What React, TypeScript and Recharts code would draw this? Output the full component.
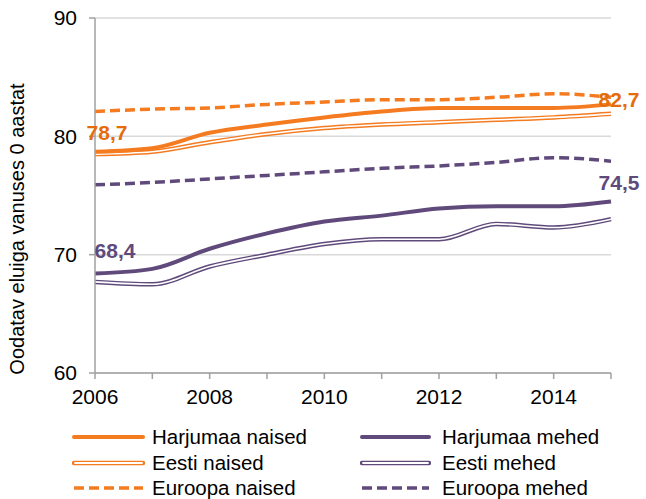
import React from "react";
import { LineChart, Line, XAxis, YAxis, CartesianGrid, Label } from "recharts";

const years = [2006, 2007, 2008, 2009, 2010, 2011, 2012, 2013, 2014, 2015];
const harjumaaNaised = [78.7, 79.0, 80.3, 81.0, 81.6, 82.1, 82.4, 82.4, 82.4, 82.7];
const eestiNaised = [78.5, 78.7, 79.5, 80.2, 80.7, 81.0, 81.2, 81.4, 81.6, 81.9];
const euroopaNaised = [82.1, 82.3, 82.4, 82.7, 82.9, 83.1, 83.1, 83.3, 83.6, 83.3];
const harjumaaMehed = [68.4, 68.8, 70.5, 71.8, 72.8, 73.3, 73.9, 74.1, 74.1, 74.5];
const eestiMehed = [67.7, 67.5, 69.0, 70.0, 70.9, 71.3, 71.3, 72.6, 72.3, 73.0];
const euroopaMehed = [75.9, 76.1, 76.4, 76.7, 77.0, 77.3, 77.5, 77.8, 78.2, 77.9];
const yTicks = [60, 70, 80, 90];

const ORANGE = "#F47B20";
const ORANGE_TEXT = "#E46C0A";
const PURPLE = "#604A7B";
const FONT = "Liberation Sans, Arial, sans-serif";

const data = years.map((year, i) => ({
  year,
  harjumaaNaised: harjumaaNaised[i],
  eestiNaised: eestiNaised[i],
  euroopaNaised: euroopaNaised[i],
  harjumaaMehed: harjumaaMehed[i],
  eestiMehed: eestiMehed[i],
  euroopaMehed: euroopaMehed[i],
}));

const fmt = (v: number) => v.toFixed(1).replace(".", ",");

const endLabel =
  (color: string, first: [number, number], last: [number, number]) =>
  (props: any) => {
    const { x, y, index, value } = props;
    if (index !== 0 && index !== years.length - 1) return null;
    const off = index === 0 ? first : last;
    return (
      <text
        key={"l" + index}
        x={x + off[0]}
        y={y + off[1]}
        fill={color}
        fontSize={21}
        fontWeight="bold"
        fontFamily={FONT}
        textAnchor="middle"
        dominantBaseline="central"
      >
        {fmt(Number(value))}
      </text>
    );
  };

type LegendItem = { name: string; color: string; kind: "solid" | "double" | "dash" };
const legendLeft: LegendItem[] = [
  { name: "Harjumaa naised", color: ORANGE, kind: "solid" },
  { name: "Eesti naised", color: ORANGE, kind: "double" },
  { name: "Euroopa naised", color: ORANGE, kind: "dash" },
];
const legendRight: LegendItem[] = [
  { name: "Harjumaa mehed", color: PURPLE, kind: "solid" },
  { name: "Eesti mehed", color: PURPLE, kind: "double" },
  { name: "Euroopa mehed", color: PURPLE, kind: "dash" },
];

const Swatch = ({ item, w }: { item: LegendItem; w: number }) => (
  <svg width={w} height={10} style={{ display: "block" }}>
    {item.kind === "solid" && (
      <line x1={2} x2={w - 2} y1={5} y2={5} stroke={item.color} strokeWidth={4} strokeLinecap="round" />
    )}
    {item.kind === "double" && (
      <>
        <line x1={2} x2={w - 2} y1={5} y2={5} stroke={item.color} strokeWidth={4.5} strokeLinecap="round" />
        <line x1={3} x2={w - 3} y1={5} y2={5} stroke="#fff" strokeWidth={1.8} strokeLinecap="round" />
      </>
    )}
    {item.kind === "dash" && (
      <line x1={2} x2={w - 2} y1={5} y2={5} stroke={item.color} strokeWidth={3.5} strokeDasharray="10 5" />
    )}
  </svg>
);

const LegendColumn = ({ items, left, w, textLeft }: { items: LegendItem[]; left: number; w: number; textLeft: number }) => (
  <>
    {items.map((it, i) => (
      <div
        key={it.name}
        style={{
          position: "absolute",
          left,
          top: 437 + i * 25.5 - 12,
          height: 24,
          display: "flex",
          alignItems: "center",
        }}
      >
        <Swatch item={it} w={w} />
        <span
          style={{
            marginLeft: textLeft - left - w,
            fontFamily: FONT,
            fontSize: 20.5,
            color: "#000",
            whiteSpace: "nowrap",
            lineHeight: "24px",
          }}
        >
          {it.name}
        </span>
      </div>
    ))}
  </>
);

export default function App() {
  const tickStyle = { fontSize: 21, fill: "#000", fontFamily: FONT };
  return (
    <div style={{ position: "absolute", left: 0, top: 0, width: 646, height: 499, background: "#fff" }}>
      <LineChart width={646} height={499} data={data} margin={{ top: 18, right: 35, left: 0, bottom: 96 }}>
        <CartesianGrid vertical={false} stroke="#D9D9D9" strokeWidth={1.5} />
        <XAxis
          dataKey="year"
          type="number"
          domain={[2006, 2015]}
          ticks={years}
          interval={0}
          tickFormatter={(v: number) => (v % 2 === 0 ? String(v) : "")}
          stroke="#A0A0A0"
          strokeWidth={1.5}
          tickSize={6}
          tickMargin={10}
          tick={tickStyle}
          height={30}
        />
        <YAxis
          domain={[60, 90]}
          ticks={yTicks}
          interval={0}
          width={95}
          stroke="#A0A0A0"
          strokeWidth={1.5}
          tickSize={6}
          tickMargin={12}
          tick={tickStyle}
        >
          <Label
            content={() => (
              <text
                x={17}
                y={229}
                transform="rotate(-90 17 229)"
                textAnchor="middle"
                dominantBaseline="central"
                fontSize={20}
                fontFamily={FONT}
                fill="#000"
              >
                Oodatav eluiga vanuses 0 aastat
              </text>
            )}
          />
        </YAxis>
        <Line dataKey="euroopaMehed" type="monotone" stroke={PURPLE} strokeWidth={3.5} strokeDasharray="10 5" dot={false} isAnimationActive={false} />
        <Line dataKey="eestiMehed" type="monotone" stroke={PURPLE} strokeWidth={4.5} dot={false} isAnimationActive={false} />
        <Line dataKey="eestiMehed" type="monotone" stroke="#fff" strokeWidth={1.6} dot={false} isAnimationActive={false} />
        <Line
          dataKey="harjumaaMehed"
          type="monotone"
          stroke={PURPLE}
          strokeWidth={4}
          dot={false}
          isAnimationActive={false}
          label={endLabel(PURPLE, [20, -23], [8, -19])}
        />
        <Line dataKey="euroopaNaised" type="monotone" stroke={ORANGE} strokeWidth={3.5} strokeDasharray="10 5" dot={false} isAnimationActive={false} />
        <Line dataKey="eestiNaised" type="monotone" stroke={ORANGE} strokeWidth={4.5} dot={false} isAnimationActive={false} />
        <Line dataKey="eestiNaised" type="monotone" stroke="#fff" strokeWidth={1.6} dot={false} isAnimationActive={false} />
        <Line
          dataKey="harjumaaNaised"
          type="monotone"
          stroke={ORANGE}
          strokeWidth={4}
          dot={false}
          isAnimationActive={false}
          label={endLabel(ORANGE_TEXT, [12, -19], [8, -5])}
        />
      </LineChart>
      <LegendColumn items={legendLeft} left={72} w={73} textLeft={152} />
      <LegendColumn items={legendRight} left={360} w={71} textLeft={442} />
    </div>
  );
}
